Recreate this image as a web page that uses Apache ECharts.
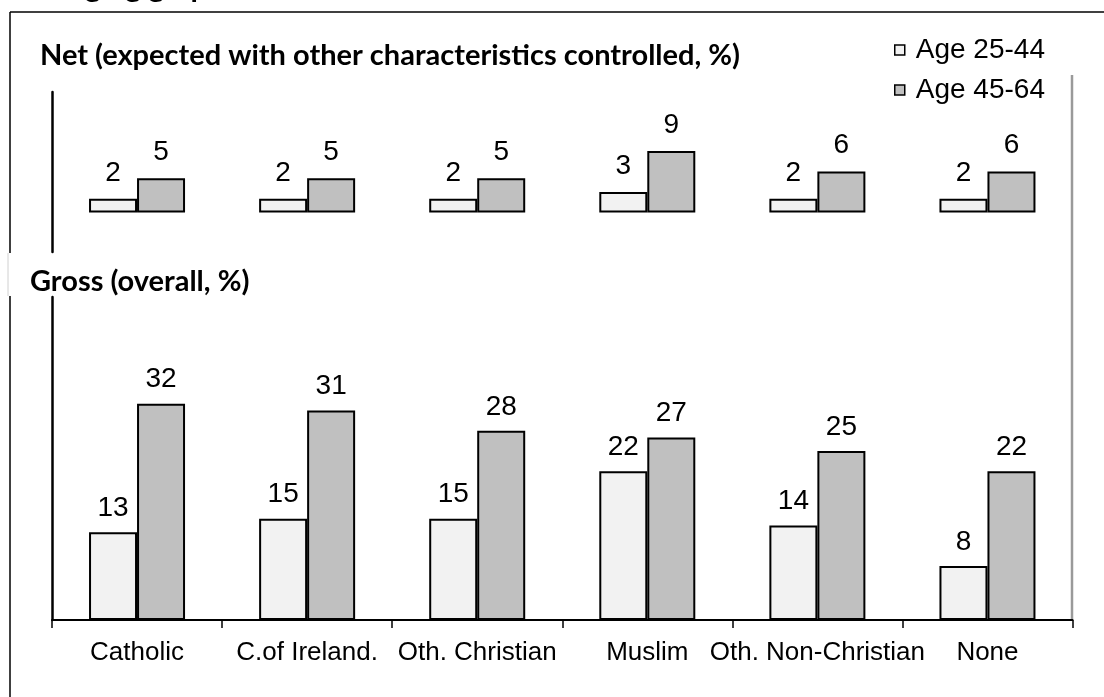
<!DOCTYPE html>
<html>
<head>
<meta charset="utf-8">
<script src="https://cdn.jsdelivr.net/npm/echarts@6/dist/echarts.min.js"></script>
<style>
  html, body { margin: 0; padding: 0; background: #fff; }
  #chart { width: 1104px; height: 697px; }
</style>
</head>
<body>
<div id="chart"></div>
<script>
// Religion groups along the shared category axis
const categories = ['Catholic', 'C.of Ireland.', 'Oth. Christian', 'Muslim', 'Oth. Non-Christian', 'None'];
const seriesNames = ['Age 25-44', 'Age 45-64'];

// Net: expected with other characteristics controlled (%)
const net25to44 = [2, 2, 2, 3, 2, 2];
const net45to64 = [5, 5, 5, 9, 6, 6];

// Gross: overall (%)
const gross25to44 = [13, 15, 15, 22, 14, 8];
const gross45to64 = [32, 31, 28, 27, 25, 22];

const LIGHT = '#f2f2f2';
const DARK = '#c0c0c0';
const ARIAL = '"Liberation Sans", Arial, sans-serif';
const BOLD = 'Lato, "Open Sans", sans-serif';

const chart = echarts.init(document.getElementById('chart'), null, { renderer: 'canvas' });

function barSeries(name, data, color, idx) {
  return {
    name: name,
    type: 'bar',
    xAxisIndex: idx,
    yAxisIndex: idx,
    data: data,
    barWidth: 48,
    barGap: '0%',
    itemStyle: { color: color, borderColor: '#000', borderWidth: 2 },
    label: {
      show: true,
      position: 'top',
      distance: idx === 0 ? 12 : 10,
      color: '#000',
      fontSize: 28,
      fontFamily: ARIAL
    },
    emphasis: { disabled: true },
    animation: false
  };
}

const option = {
  backgroundColor: '#fff',
  animation: false,
  grid: [
    { left: 52, right: 31.5, top: 92, height: 160 },
    { left: 52, right: 31.5, top: 297, bottom: 77 }
  ],
  legend: {
    data: seriesNames,
    orient: 'vertical',
    left: 889,
    top: 31,
    icon: 'rect',
    itemWidth: 10,
    itemHeight: 10,
    itemGap: 12,
    itemStyle: { borderWidth: 1.5, borderColor: '#000' },
    textStyle: { fontSize: 28, fontFamily: ARIAL, color: '#000', padding: [0, 0, 0, 6] },
    selectedMode: false
  },
  xAxis: [
    {
      type: 'category', gridIndex: 0, data: categories,
      axisLine: { show: false }, axisTick: { show: false }, axisLabel: { show: false }
    },
    {
      type: 'category', gridIndex: 1, data: categories,
      axisLine: { show: true, lineStyle: { color: '#000', width: 2 } },
      axisTick: { show: true, length: 8, lineStyle: { color: '#000', width: 1.5 } },
      axisLabel: { fontSize: 26, fontFamily: ARIAL, color: '#000', margin: 20, interval: 0 }
    }
  ],
  yAxis: [
    {
      type: 'value', gridIndex: 0, min: -5.77, max: 17.6,
      axisLine: { show: true, lineStyle: { color: '#000', width: 2.5 } },
      axisTick: { show: false }, axisLabel: { show: false }, splitLine: { show: false }
    },
    {
      type: 'value', gridIndex: 1, min: 0, max: 47.8,
      axisLine: { show: true, lineStyle: { color: '#000', width: 2.5 } },
      axisTick: { show: false }, axisLabel: { show: false }, splitLine: { show: false }
    }
  ],
  series: [
    barSeries(seriesNames[0], net25to44, LIGHT, 0),
    barSeries(seriesNames[1], net45to64, DARK, 0),
    barSeries(seriesNames[0], gross25to44, LIGHT, 1),
    barSeries(seriesNames[1], gross45to64, DARK, 1)
  ],
  graphic: [
    // heading above the frame, mostly outside the canvas
    { type: 'text', left: 16, top: -28, style: { text: 'Changing graph', font: 'bold 30px ' + BOLD, fill: '#000' } },
    // frame around the panels
    { type: 'line', shape: { x1: 10, y1: 12, x2: 1104, y2: 12 }, style: { stroke: '#000', lineWidth: 1.5 } },
    { type: 'line', shape: { x1: 10, y1: 12, x2: 10, y2: 253 }, style: { stroke: '#000', lineWidth: 1.5 } },
    { type: 'line', shape: { x1: 10, y1: 296, x2: 10, y2: 697 }, style: { stroke: '#000', lineWidth: 1.5 } },
    { type: 'line', shape: { x1: 8, y1: 253, x2: 8, y2: 296 }, style: { stroke: '#d0d0d0', lineWidth: 1 } },
    // right-hand gray rule
    { type: 'line', shape: { x1: 1072, y1: 75, x2: 1072, y2: 620 }, style: { stroke: '#9a9a9a', lineWidth: 2.5 } },
    // panel headings
    { type: 'text', left: 40, top: 41, style: { text: 'Net (expected with other characteristics controlled, %)', font: 'bold 29px ' + BOLD, fill: '#000' } },
    { type: 'text', left: 30, top: 267, style: { text: 'Gross (overall, %)', font: 'bold 29px ' + BOLD, fill: '#000' } }
  ]
};

chart.setOption(option);
</script>
</body>
</html>
